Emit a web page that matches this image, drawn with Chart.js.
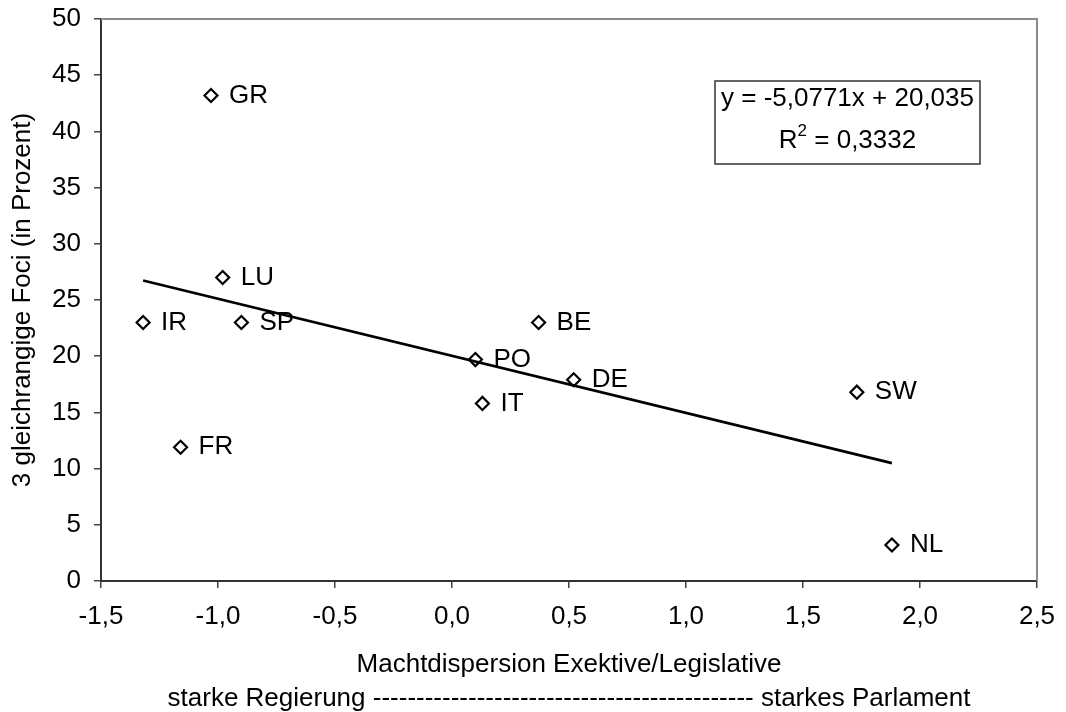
<!DOCTYPE html>
<html>
<head>
<meta charset="utf-8">
<script src="https://cdn.jsdelivr.net/npm/chart.js@4"></script>
<style>
  html, body { margin: 0; padding: 0; background: #fff; }
</style>
</head>
<body>
<canvas id="chart1" width="1066" height="712"></canvas>
<script>

  // Daten
  var laender = ['GR', 'LU', 'IR', 'SP', 'FR', 'PO', 'IT', 'BE', 'DE', 'SW', 'NL']
  var machtdispersion = [-1.03, -0.98, -1.32, -0.90, -1.16, 0.10, 0.13, 0.37, 0.52, 1.73, 1.88]
  var foci = [43.2, 27.0, 23.0, 23.0, 11.9, 19.7, 15.8, 23.0, 17.9, 16.8, 3.2]

  // Trendlinie (Endpunkte)
  var trendX = [-1.32, 1.88]
  var trendY = [26.74, 10.49]

  var gleichung = 'y = -5,0771x + 20,035'
  var bestimmtheit = ' = 0,3332'

  var xTitel = ['Machtdispersion Exektive/Legislative',
    'starke Regierung -------------------------------------------- starkes Parlament']
  var yTitel = '3 gleichrangige Foci (in Prozent)'

  var schrift = "'Liberation Sans', Arial, sans-serif"

  function komma(v) {
    return v.toFixed(1).replace('.', ',')
  }

  var punkte = []
  for (var i = 0; i < laender.length; i++) {
    punkte.push({ x: machtdispersion[i], y: foci[i] })
  }
  var trend = []
  for (var j = 0; j < trendX.length; j++) {
    trend.push({ x: trendX[j], y: trendY[j] })
  }

  // rahmen oben und rechts
  const rahmen = {
    id: 'rahmen',
    beforeDatasetsDraw(chart) {
      const ctx = chart.ctx
      const a = chart.chartArea
      ctx.save()
      ctx.strokeStyle = '#8a8a8a'
      ctx.lineWidth = 2
      ctx.beginPath()
      ctx.moveTo(a.left, a.top)
      ctx.lineTo(a.right, a.top)
      ctx.lineTo(a.right, a.bottom)
      ctx.stroke()
      ctx.restore()
    }
  }

  // Beschriftung der Punkte + Gleichungskasten
  const beschriftung = {
    id: 'beschriftung',
    afterDatasetsDraw(chart) {
      const ctx = chart.ctx
      const meta = chart.getDatasetMeta(1)
      ctx.save()
      ctx.font = '26px ' + schrift
      ctx.fillStyle = '#000'
      ctx.textBaseline = 'middle'
      ctx.textAlign = 'left'
      meta.data.forEach(function (p, k) {
        ctx.fillText(laender[k], p.x + 18, p.y)
      })

      // kasten
      const a = chart.chartArea
      const bx = a.left + 614
      const by = a.top + 62
      const bw = 265
      const bh = 83
      ctx.fillStyle = '#fff'
      ctx.fillRect(bx, by, bw, bh)
      ctx.strokeStyle = '#333'
      ctx.lineWidth = 1.5
      ctx.strokeRect(bx, by, bw, bh)

      const mitte = bx + bw / 2
      ctx.fillStyle = '#000'
      ctx.textAlign = 'center'
      ctx.fillText(gleichung, mitte, by + 18)

      ctx.textAlign = 'left'
      ctx.font = '26px ' + schrift
      const wR = ctx.measureText('R').width
      const wRest = ctx.measureText(bestimmtheit).width
      ctx.font = '17px ' + schrift
      const w2 = ctx.measureText('2').width
      let sx = mitte - (wR + w2 + wRest) / 2
      ctx.font = '26px ' + schrift
      ctx.fillText('R', sx, by + 60)
      ctx.font = '17px ' + schrift
      ctx.fillText('2', sx + wR, by + 50)
      ctx.font = '26px ' + schrift
      ctx.fillText(bestimmtheit, sx + wR + w2, by + 60)
      ctx.restore()
    }
  }

  Chart.defaults.font.family = schrift
  Chart.defaults.font.size = 26
  Chart.defaults.color = '#000'

  const config = {
    type: 'scatter',
    data: {
      datasets: [
        {
          type: 'line',
          label: 'Trend',
          data: trend,
          borderColor: '#000',
          borderWidth: 2.7,
          pointRadius: 0,
          fill: false
        },
        {
          label: 'Länder',
          data: punkte,
          pointStyle: 'rectRot',
          pointRadius: 6.5,
          pointBorderWidth: 2.2,
          borderColor: '#000',
          backgroundColor: '#fff'
        }
      ]
    },
    options: {
      responsive: false,
      animation: false,
      devicePixelRatio: 1,
      layout: { padding: { top: 19, right: 29, left: 0, bottom: 0 } },
      plugins: {
        legend: { display: false },
        tooltip: { enabled: false }
      },
      scales: {
        x: {
          type: 'linear',
          min: -1.5,
          max: 2.5,
          afterFit: function (s) {
            s.height = 131
            s.paddingLeft = 0
            s.paddingRight = 0
          },
          ticks: {
            stepSize: 0.5,
            padding: 13,
            color: '#000',
            callback: function (v) { return komma(v) }
          },
          grid: { drawOnChartArea: false, drawTicks: true, tickLength: 7, color: '#444', lineWidth: 1.5 },
          border: { color: '#333', width: 2 },
          title: {
            display: true,
            text: xTitel,
            color: '#000',
            font: { size: 26, lineHeight: '34px' },
            padding: { top: 0, bottom: -4 }
          }
        },
        y: {
          min: 0,
          max: 50,
          afterFit: function (s) {
            s.width = 101
            s.paddingTop = 0
            s.paddingBottom = 0
          },
          ticks: { stepSize: 5, padding: 13, color: '#000' },
          grid: { drawOnChartArea: false, drawTicks: true, tickLength: 7, color: '#444', lineWidth: 1.5 },
          border: { color: '#333', width: 2 },
          title: {
            display: true,
            text: yTitel,
            color: '#000',
            font: { size: 26 },
            padding: { top: 7, bottom: 0 }
          }
        }
      }
    },
    plugins: [rahmen, beschriftung]
  }

  const myChart = new Chart(document.getElementById('chart1'), config)

</script>
</body>
</html>
